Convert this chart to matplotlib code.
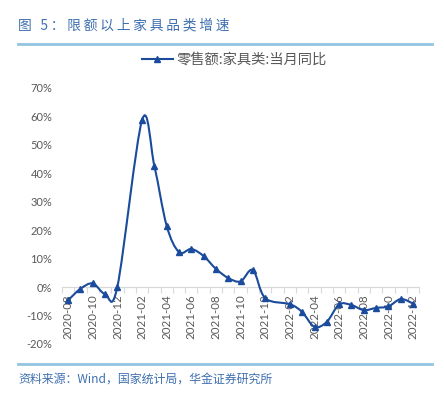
import matplotlib

matplotlib.use("Agg")
import matplotlib.pyplot as plt
import numpy as np
from matplotlib.lines import Line2D
from matplotlib.patches import PathPatch
from matplotlib.path import Path

plt.rcParams["font.family"] = ["Lato", "Noto Sans CJK SC", "DejaVu Sans"]

# monthly furniture retail yoy (%), 2020-08 .. 2022-12; Jan values are not published
MONTHS = [
    "2020-08", "2020-09", "2020-10", "2020-11", "2020-12",
    "2021-01", "2021-02", "2021-03", "2021-04", "2021-05", "2021-06",
    "2021-07", "2021-08", "2021-09", "2021-10", "2021-11", "2021-12",
    "2022-01", "2022-02", "2022-03", "2022-04", "2022-05", "2022-06",
    "2022-07", "2022-08", "2022-09", "2022-10", "2022-11", "2022-12",
]
YOY = [
    -4.6, -0.6, 1.3, -2.4, 0.2,
    np.nan, 58.7, 42.6, 21.5, 12.3, 13.4,
    10.9, 6.4, 3.2, 2.0, 6.0, -3.9,
    np.nan, -6.0, -8.8, -14.0, -12.2, -6.1,
    -6.3, -8.1, -7.3, -6.8, -4.2, -5.8,
]
Y_TICKS = [-20, -10, 0, 10, 20, 30, 40, 50, 60, 70]

TITLE = "图 5：限额以上家具品类增速"
LEGEND = "零售额:家具类:当月同比"
SOURCE = "资料来源：Wind，国家统计局，华金证券研究所"

LINE_C = "#1a4b9c"
RULE_C = "#93c4e0"
TEXT_C = "#595959"
HEAD_C = "#3e6fb0"
CJK = ["Noto Sans CJK SC", "DejaVu Sans"]


def smooth_path(x, y):
    """Excel-style smoothed line: cubic Bezier segments through the points."""
    pts = np.column_stack([x, y])
    n = len(pts)
    verts = [pts[0]]
    codes = [Path.MOVETO]
    for i in range(n - 1):
        p0 = pts[max(i - 1, 0)]
        p1, p2 = pts[i], pts[i + 1]
        p3 = pts[min(i + 2, n - 1)]
        c1 = p1 + (p2 - p0) / 6.0
        c2 = p2 - (p3 - p1) / 6.0
        verts += [c1, c2, p2]
        codes += [Path.CURVE4] * 3
    return Path(verts, codes)


x = np.arange(len(MONTHS))
y = np.array(YOY, dtype=float)
ok = ~np.isnan(y)

fig = plt.figure(figsize=(4.44, 3.93), dpi=100)
ax = fig.add_axes([0.1396, 0.1247, 0.8046, 0.6514])

# spine position first: set_position resets tick styling
for side in ["top", "right", "left"]:
    ax.spines[side].set_visible(False)
ax.spines["bottom"].set_position(("data", 0))
ax.spines["bottom"].set_color("#d9d9d9")
ax.spines["bottom"].set_linewidth(0.9)

ax.add_patch(PathPatch(smooth_path(x[ok], y[ok]), facecolor="none",
                       edgecolor=LINE_C, lw=1.5, zorder=3))
ax.plot(x[ok], y[ok], ls="none", marker="^", ms=5, color=LINE_C, zorder=4)

ax.set_xlim(-0.5, len(MONTHS) - 0.5)
ax.set_ylim(-20, 70)
ax.set_yticks(Y_TICKS)
ax.set_yticklabels([f"{v}%" for v in Y_TICKS], color=TEXT_C, fontsize=8)
ax.tick_params(axis="y", length=0, pad=7)

ax.set_xticks(x[::2])
ax.set_xticklabels(MONTHS[::2], rotation=90, color=TEXT_C, fontsize=8.3)
ax.set_xticks(np.arange(-0.5, len(MONTHS), 1.0), minor=True)
ax.tick_params(axis="x", which="major", length=0, pad=5)
ax.tick_params(axis="x", which="minor", length=4, color="#d9d9d9", width=0.8)

handle = Line2D([], [], color=LINE_C, lw=1.5, marker="^", ms=5)
leg = fig.legend([handle], [LEGEND], loc="center", bbox_to_anchor=(0.527, 0.848),
                 frameon=False, fontsize=10.3, handlelength=2.2, handletextpad=0.2)
for t in leg.get_texts():
    t.set_color(TEXT_C)
    t.set_family(CJK)

# header and footer (title is letter-spaced with thin spaces)
fig.text(0.041, 0.934, "\u2009".join(TITLE), fontsize=9.9, color=HEAD_C,
         va="center", family=CJK)
fig.add_artist(Line2D([0.041, 0.973], [0.888, 0.888], color=RULE_C, lw=2))
fig.add_artist(Line2D([0.041, 0.973], [0.074, 0.074], color=RULE_C, lw=2))
fig.text(0.041, 0.035, SOURCE, fontsize=8.6, color=HEAD_C, va="center",
         style="italic", family=CJK)

fig.savefig("out.png", dpi=100)
